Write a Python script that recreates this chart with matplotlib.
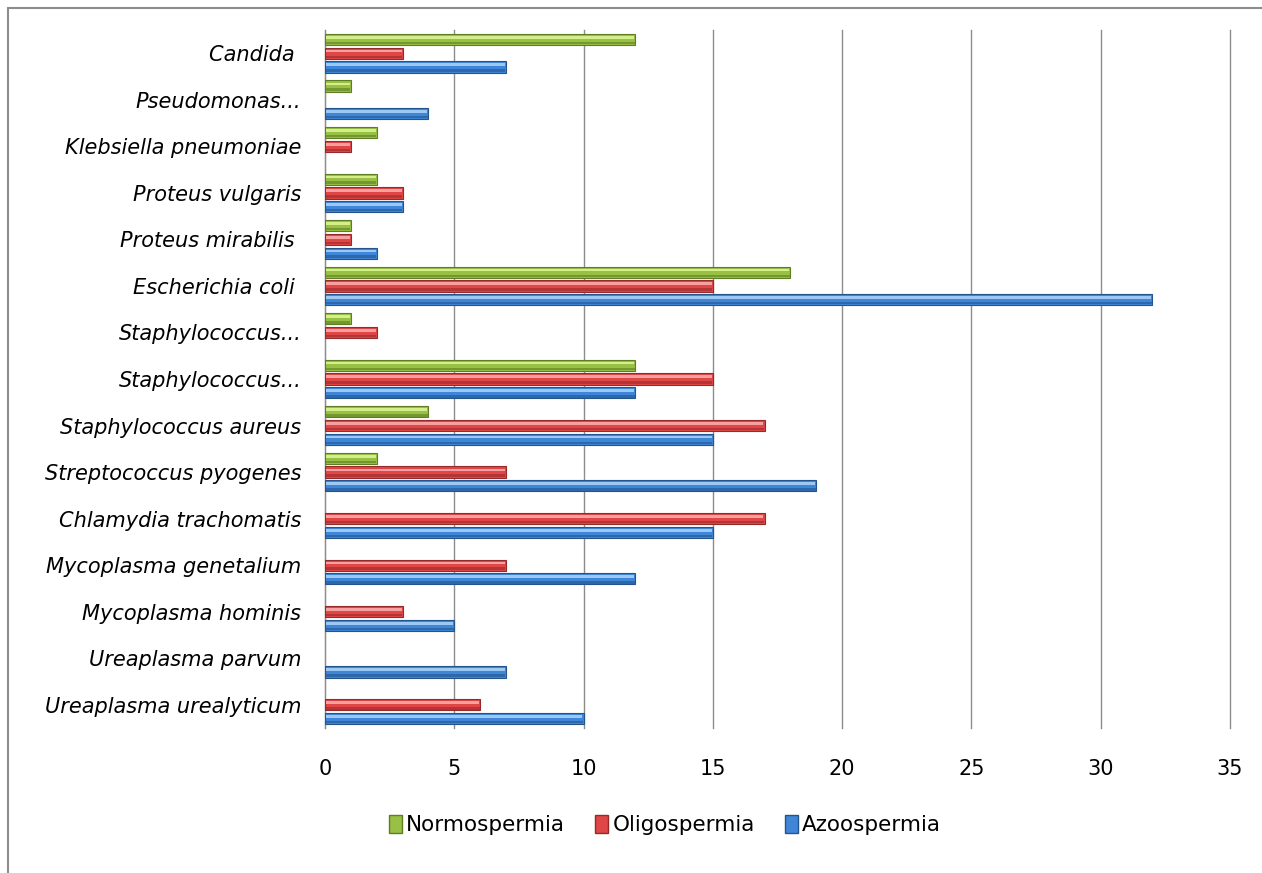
import numpy as np
import matplotlib.pyplot as plt
from matplotlib.patches import Rectangle, Patch

labels = ['Candida ', 'Pseudomonas...', 'Klebsiella pneumoniae', 'Proteus vulgaris',
          'Proteus mirabilis ', 'Escherichia coli ', 'Staphylococcus...', 'Staphylococcus...',
          'Staphylococcus aureus', 'Streptococcus pyogenes', 'Chlamydia trachomatis',
          'Mycoplasma genetalium', 'Mycoplasma hominis', 'Ureaplasma parvum',
          'Ureaplasma urealyticum']
normo = [12, 1, 2, 2, 1, 18, 1, 12, 4, 2, 0, 0, 0, 0, 0]
oligo = [3, 0, 1, 3, 1, 15, 2, 15, 17, 7, 17, 7, 3, 0, 6]
azoo = [7, 4, 0, 3, 2, 32, 0, 12, 15, 19, 15, 12, 5, 7, 10]
series = ['Normospermia', 'Oligospermia', 'Azoospermia']

# (light, base, dark) shades per series
shades = {
    'Normospermia': ('#d4ef8a', '#98c044', '#5f7d22'),
    'Oligospermia': ('#f6a0a0', '#e04646', '#962a2a'),
    'Azoospermia': ('#9cc8f4', '#3f86d8', '#24548e'),
}

fam = ['DejaVu Sans']

fig = plt.figure(figsize=(12.62, 8.73), dpi=100)
fig.patches.append(Rectangle((8 / 1262, -0.1), 1.2, 1 - 8 / 873 + 0.1,
                             transform=fig.transFigure, fill=False,
                             edgecolor='#8c8c8c', linewidth=1.5))
ax = fig.add_axes([0.2575, 0.1661, 0.7171, 0.7995])

h = 0.295
y = np.arange(len(labels))
for k, (name, vals) in enumerate(zip(series, [normo, oligo, azoo])):
    light, base, dark = shades[name]
    yy = y + (k - 1) * h
    vals = np.array(vals, dtype=float)
    m = vals > 0
    ax.barh(yy[m], vals[m], height=h * 0.82, color=base, edgecolor=dark,
            linewidth=0.8, zorder=3)
    # highlight strip for the glossy look
    ax.barh(yy[m] - h * 0.16, vals[m] - 0.08, left=0.04, height=h * 0.2,
            color=light, linewidth=0, zorder=4)
    ax.barh(yy[m] + h * 0.26, vals[m] - 0.04, left=0.02, height=h * 0.18,
            color=dark, alpha=0.6, linewidth=0, zorder=4)

ax.set_xlim(0, 35)
ax.set_ylim(14.5, -0.5)
ax.set_xticks(np.arange(0, 36, 5))
ax.set_yticks(y)
ax.set_yticklabels(labels, fontstyle='italic', fontsize=15, family=fam)
for t in ax.get_xticklabels():
    t.set_family(fam)
    t.set_fontsize(15)
ax.tick_params(axis='both', length=0)
ax.tick_params(axis='x', pad=22)
ax.tick_params(axis='y', pad=17)
ax.grid(axis='x', color='#8c8c8c', linewidth=1, zorder=0)
for gl in ax.get_xgridlines():
    gl.set_clip_on(False)
for s in ['top', 'right', 'bottom']:
    ax.spines[s].set_visible(False)
ax.spines['left'].set_color('#8c8c8c')

handles = [Patch(facecolor=shades[s][1], edgecolor=shades[s][2], label=s) for s in series]
fig.legend(handles=handles, loc='center', bbox_to_anchor=(0.527, 0.055), ncol=3,
           frameon=False, prop={'family': fam, 'size': 15.5}, handlelength=0.6,
           handleheight=0.9, handletextpad=0.2, columnspacing=1.4)

fig.savefig('out.png', dpi=100)
